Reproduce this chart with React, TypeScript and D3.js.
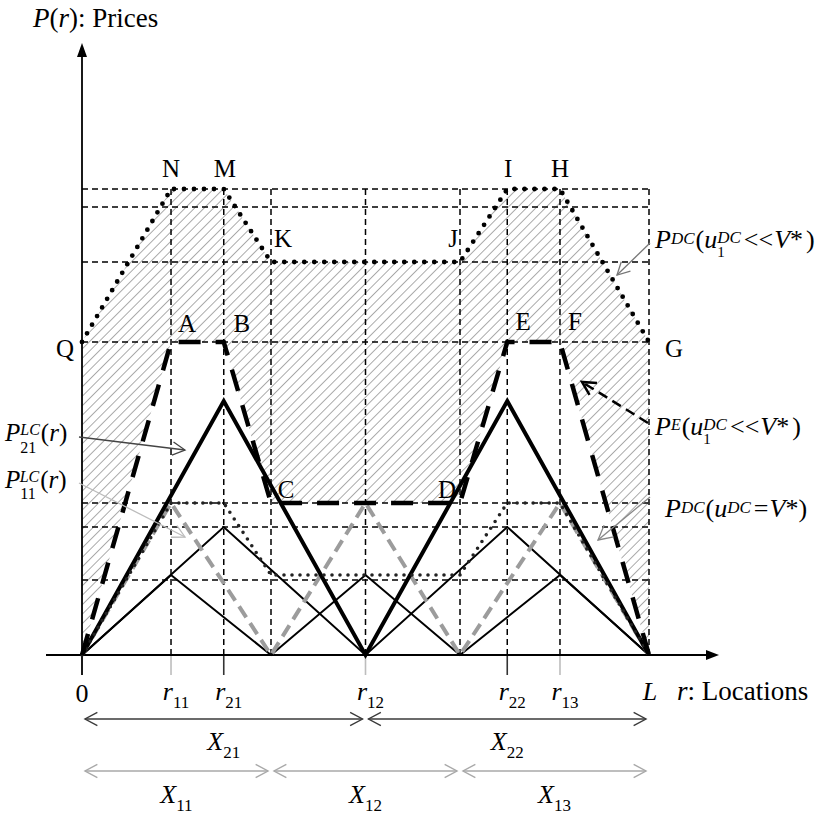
import React from "react";
import * as d3 from "d3";

const W = 838;
const H = 816;
const FONT = "'Liberation Serif', 'Times New Roman', Times, serif";

// Locations along the linear market [0, L], with L = 1
const R11 = 0.157;
const R21 = 0.25;
const B1 = 1 / 3;
const R12 = 0.5;
const B2 = 2 / 3;
const R22 = 0.75;
const R13 = 0.843;
const LEN = 1;

// Price levels
const P_NM = 46.6;
const P_UPPER2 = 44.8;
const P_KJ = 39.3;
const P_Q = 31.3;
const P21_PEAK = 25.4;
const P_CD = 15.2;
const P21_SMALL = 12.8;
const P11_SMALL = 8.0;
const P_LOWGRID = 7.5;

type Pt = [number, number];

// P^DC(u1^DC << V*): Q-N-M-K-J-I-H-G
const pdcHigh: Pt[] = [
  [0, P_Q], [R11, P_NM], [R21, P_NM], [B1, P_KJ],
  [B2, P_KJ], [R22, P_NM], [R13, P_NM], [LEN, P_Q],
];
// P^E(u1^DC << V*): 0-A-B-C-D-E-F-L
const pE: Pt[] = [
  [0, 0], [R11, P_Q], [R21, P_Q], [B1, P_CD],
  [B2, P_CD], [R22, P_Q], [R13, P_Q], [LEN, 0],
];
// P21^LC(r)
const p21: Pt[] = [[0, 0], [R21, P21_PEAK], [R12, 0], [R22, P21_PEAK], [LEN, 0]];
// P11^LC(r)
const p11: Pt[] = [[0, 0], [R11, P_CD], [B1, 0], [R12, P_CD], [B2, 0], [R13, P_CD], [LEN, 0]];
// smaller delivered-price triangles
const p21Small: Pt[] = [[0, 0], [R21, P21_SMALL], [R12, 0], [R22, P21_SMALL], [LEN, 0]];
const p11Small: Pt[] = [[0, 0], [R11, P11_SMALL], [B1, 0], [R12, P11_SMALL], [B2, 0], [R13, P11_SMALL], [LEN, 0]];
// P^DC(u^DC = V*)
const pdcLow: Pt[] = [
  [0, 0], [R11, P_CD], [R21, P_CD], [B1, P11_SMALL],
  [B2, P11_SMALL], [R22, P_CD], [R13, P_CD], [LEN, 0],
];

const gridLevels = [P_NM, P_UPPER2, P_KJ, P_Q, P_CD, P21_SMALL, P_LOWGRID];
const gridSites = [R11, R21, B1, R12, B2, R22, R13, LEN];

const siteTicks = [
  { r: R11, sub: "11", firm: 1 },
  { r: R21, sub: "21", firm: 2 },
  { r: R12, sub: "12", firm: 1 },
  { r: R22, sub: "22", firm: 2 },
  { r: R13, sub: "13", firm: 1 },
];

const marketSegments2 = [
  { from: 0, to: R12, sub: "21" },
  { from: R12, to: LEN, sub: "22" },
];
const marketSegments1 = [
  { from: 0, to: B1, sub: "11" },
  { from: B1, to: B2, sub: "12" },
  { from: B2, to: LEN, sub: "13" },
];

const pointLabels = [
  { name: "N", r: R11, p: P_NM, dx: 0, dy: -12 },
  { name: "M", r: R21, p: P_NM, dx: 1, dy: -12 },
  { name: "I", r: R22, p: P_NM, dx: 1, dy: -12 },
  { name: "H", r: R13, p: P_NM, dx: 0, dy: -12 },
  { name: "K", r: B1, p: P_KJ, dx: 12, dy: -15 },
  { name: "J", r: B2, p: P_KJ, dx: -7, dy: -15 },
  { name: "A", r: R11, p: P_Q, dx: 16, dy: -10 },
  { name: "B", r: R21, p: P_Q, dx: 18, dy: -10 },
  { name: "E", r: R22, p: P_Q, dx: 16, dy: -12 },
  { name: "F", r: R13, p: P_Q, dx: 15, dy: -12 },
  { name: "Q", r: 0, p: P_Q, dx: -17, dy: 15 },
  { name: "G", r: LEN, p: P_Q, dx: 25, dy: 15 },
  { name: "C", r: B1, p: P_CD, dx: 15, dy: -5 },
  { name: "D", r: B2, p: P_CD, dx: -13, dy: -5 },
];

const x = d3.scaleLinear().domain([0, LEN]).range([82, 649]);
const y = d3.scaleLinear().domain([0, 61]).range([655, 45]);

const line = d3
  .line<Pt>()
  .x((d) => x(d[0]))
  .y((d) => y(d[1]));

type Part = { t: string; it?: boolean; s?: number; off?: number; dx?: number };

function Rich({
  x: tx,
  y: ty,
  parts,
  size = 26,
  anchor = "start",
  fill = "#000",
}: {
  x: number;
  y: number;
  parts: Part[];
  size?: number;
  anchor?: string;
  fill?: string;
}) {
  let prev = 0;
  return (
    <text x={tx} y={ty} fontFamily={FONT} fontSize={size} textAnchor={anchor} fill={fill}>
      {parts.map((p, i) => {
        const off = p.off ?? 0;
        const dy = off - prev;
        prev = off;
        return (
          <tspan
            key={i}
            dy={dy || undefined}
            dx={p.dx || undefined}
            fontStyle={p.it ? "italic" : "normal"}
            fontSize={p.s ?? size}
          >
            {p.t}
          </tspan>
        );
      })}
    </text>
  );
}

function head(tip: Pt, from: Pt, len = 14, ang = 28) {
  const a = Math.atan2(from[1] - tip[1], from[0] - tip[0]);
  const r = (ang * Math.PI) / 180;
  const p1: Pt = [tip[0] + len * Math.cos(a + r), tip[1] + len * Math.sin(a + r)];
  const p2: Pt = [tip[0] + len * Math.cos(a - r), tip[1] + len * Math.sin(a - r)];
  return `M${p1[0]},${p1[1]}L${tip[0]},${tip[1]}L${p2[0]},${p2[1]}`;
}

function Pointer({
  from,
  to,
  color,
  width = 1.3,
  dash,
  len = 14,
}: {
  from: Pt;
  to: Pt;
  color: string;
  width?: number;
  dash?: string;
  len?: number;
}) {
  return (
    <g stroke={color} fill="none" strokeWidth={width}>
      <line x1={from[0]} y1={from[1]} x2={to[0]} y2={to[1]} strokeDasharray={dash} />
      <path d={head(to, from, len)} strokeWidth={width} />
    </g>
  );
}

function DoubleArrow({ x1, x2, yy, color }: { x1: number; x2: number; yy: number; color: string }) {
  return (
    <g stroke={color} fill="none" strokeWidth={1.4}>
      <line x1={x1} y1={yy} x2={x2} y2={yy} />
      <path d={head([x1, yy], [x2, yy], 14, 28)} />
      <path d={head([x2, yy], [x1, yy], 14, 28)} />
    </g>
  );
}

export default function App() {
  const hatchPoly = [...pdcHigh, ...pE.slice().reverse()];
  const hatchPath = line(hatchPoly) + "Z";
  const y0 = y(0);

  return (
    <svg
      width={W}
      height={H}
      viewBox={`0 0 ${W} ${H}`}
      style={{ position: "absolute", left: 0, top: 0, background: "#fff" }}
    >
      <defs>
        <pattern
          id="hatch"
          patternUnits="userSpaceOnUse"
          width={6.7}
          height={6.7}
          patternTransform="rotate(45)"
        >
          <line x1={3.35} y1={-1} x2={3.35} y2={8} stroke="#a8a8a8" strokeWidth={1} />
        </pattern>
      </defs>

      {/* hatched band between the two equilibrium price schedules */}
      <path d={hatchPath} fill="url(#hatch)" stroke="none" />

      {/* dashed reference grid */}
      <g stroke="#000" strokeWidth={1.5} strokeDasharray="6 4" fill="none">
        {gridLevels.map((p, i) => (
          <line key={"h" + i} x1={x(0)} x2={x(LEN)} y1={y(p)} y2={y(p)} />
        ))}
        {gridSites.map((r, i) => (
          <line key={"v" + i} x1={x(r)} x2={x(r)} y1={y(P_NM)} y2={y0} />
        ))}
      </g>

      {/* site ticks below the axis */}
      {siteTicks.map((t) => (
        <line
          key={t.sub}
          x1={x(t.r)}
          x2={x(t.r)}
          y1={y0}
          y2={y0 + 20}
          stroke={t.firm === 1 ? "#bdbdbd" : "#333"}
          strokeWidth={1.6}
        />
      ))}

      {/* axes */}
      <g stroke="#000" strokeWidth={1.8}>
        <line x1={46} x2={708} y1={y0} y2={y0} />
        <line x1={x(0)} x2={x(0)} y1={y0 + 20} y2={57} />
      </g>
      <path d={`M719,${y0}L706,${y0 - 5}L706,${y0 + 5}Z`} fill="#000" />
      <path d={`M${x(0)},43L${x(0) - 5},57L${x(0) + 5},57Z`} fill="#000" />

      {/* price schedules */}
      <path d={line(p11Small)!} fill="none" stroke="#000" strokeWidth={2} strokeLinejoin="miter" />
      <path d={line(p21Small)!} fill="none" stroke="#000" strokeWidth={2} strokeLinejoin="miter" />
      <path
        d={line(p11)!}
        fill="none"
        stroke="#9c9c9c"
        strokeWidth={4}
        strokeDasharray="13 7"
        strokeLinejoin="miter"
      />
      <path d={line(p21)!} fill="none" stroke="#000" strokeWidth={4} strokeLinejoin="miter" />
      <path
        d={line(pdcLow)!}
        fill="none"
        stroke="#222"
        strokeWidth={3.6}
        strokeDasharray="0 8"
        strokeLinecap="round"
      />
      <path
        d={line(pE)!}
        fill="none"
        stroke="#000"
        strokeWidth={4.5}
        strokeDasharray="22 15"
        strokeLinejoin="miter"
      />
      <path
        d={line(pdcHigh)!}
        fill="none"
        stroke="#000"
        strokeWidth={4.8}
        strokeDasharray="0 10"
        strokeLinecap="round"
      />

      {/* point letters */}
      {pointLabels.map((l) => (
        <text
          key={l.name}
          x={x(l.r) + l.dx}
          y={y(l.p) + l.dy}
          fontFamily={FONT}
          fontSize={25}
          textAnchor="middle"
        >
          {l.name}
        </text>
      ))}

      {/* axis titles */}
      <Rich
        x={33}
        y={27}
        size={27}
        parts={[{ t: "P", it: true }, { t: "(" }, { t: "r", it: true }, { t: "): Prices" }]}
      />
      <Rich x={677} y={700} size={27} parts={[{ t: "r", it: true }, { t: ": Locations" }]} />
      <Rich x={x(LEN) + 1} y={700} anchor="middle" parts={[{ t: "L", it: true }]} />
      <Rich x={x(0)} y={702} anchor="middle" parts={[{ t: "0" }]} />

      {siteTicks.map((t) => (
        <Rich
          key={"lab" + t.sub}
          x={x(t.r) + 5}
          y={700}
          anchor="middle"
          parts={[{ t: "r", it: true }, { t: t.sub, s: 17, off: 8 }]}
        />
      ))}

      {/* market areas */}
      {marketSegments2.map((s, i) => (
        <g key={"m2" + i}>
          <DoubleArrow x1={x(s.from) + 3} x2={x(s.to) - 3} yy={719} color="#3a3a3a" />
          <Rich
            x={(x(s.from) + x(s.to)) / 2}
            y={750}
            anchor="middle"
            parts={[{ t: "X", it: true }, { t: s.sub, s: 17, off: 8 }]}
          />
        </g>
      ))}
      {marketSegments1.map((s, i) => (
        <g key={"m1" + i}>
          <DoubleArrow x1={x(s.from) + 3} x2={x(s.to) - 3} yy={771} color="#a8a8a8" />
          <Rich
            x={(x(s.from) + x(s.to)) / 2}
            y={803}
            anchor="middle"
            parts={[{ t: "X", it: true }, { t: s.sub, s: 17, off: 8 }]}
          />
        </g>
      ))}

      {/* left annotations */}
      <Rich
        x={5}
        y={441}
        size={25}
        parts={[
          { t: "P", it: true },
          { t: "21", s: 16, off: 12 },
          { t: "LC", it: true, s: 16, off: -6, dx: -16 },
          { t: "(", off: 0, dx: 1 },
          { t: "r", it: true },
          { t: ")" },
        ]}
      />
      <Pointer from={[79, 437]} to={[185, 450]} color="#444" />
      <Rich
        x={5}
        y={488}
        size={25}
        parts={[
          { t: "P", it: true },
          { t: "11", s: 16, off: 11 },
          { t: "LC", it: true, s: 16, off: -6, dx: -16 },
          { t: "(", off: 0, dx: 1 },
          { t: "r", it: true },
          { t: ")" },
        ]}
      />
      <Pointer from={[79, 483]} to={[185, 537]} color="#bcbcbc" />

      {/* right annotations */}
      <Rich
        x={655}
        y={248}
        parts={[
          { t: "P", it: true },
          { t: "DC", it: true, s: 17, off: -4 },
          { t: "(", off: 0, dx: 1 },
          { t: "u", it: true },
          { t: "1", s: 15, off: 9 },
          { t: "DC", it: true, s: 17, off: -5, dx: -7.5 },
          { t: "<<", off: 0, dx: 3 },
          { t: "V", it: true, dx: 1 },
          { t: "*" },
          { t: ")", dx: 3 },
        ]}
      />
      <Pointer from={[650, 243]} to={[617, 275]} color="#777" />

      <Rich
        x={655}
        y={435}
        parts={[
          { t: "P", it: true },
          { t: "E", it: true, s: 16, off: -5 },
          { t: "(", off: 0, dx: 1 },
          { t: "u", it: true },
          { t: "1", s: 15, off: 9 },
          { t: "DC", it: true, s: 17, off: -5, dx: -7.5 },
          { t: "<<", off: 0, dx: 3 },
          { t: "V", it: true, dx: 1 },
          { t: "*" },
          { t: ")", dx: 3 },
        ]}
      />
      <Pointer from={[648, 423]} to={[582, 382]} color="#000" width={2.5} dash="10 6" len={15} />

      <Rich
        x={665}
        y={517}
        parts={[
          { t: "P", it: true },
          { t: "DC", it: true, s: 17, off: -4 },
          { t: "(", off: 0, dx: 1 },
          { t: "u", it: true },
          { t: "DC", it: true, s: 17, off: -4 },
          { t: "=", off: 0, dx: 3 },
          { t: "V", it: true, dx: 1 },
          { t: "*" },
          { t: ")" },
        ]}
      />
      <Pointer from={[650, 497]} to={[598, 540]} color="#888" len={16} />
    </svg>
  );
}
